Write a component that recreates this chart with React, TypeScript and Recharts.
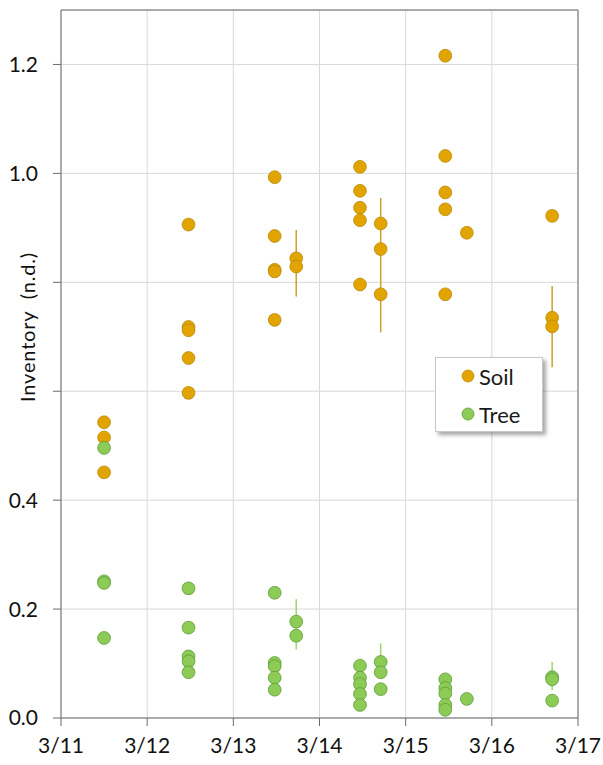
import { CartesianGrid, ErrorBar, Legend, ReferenceLine, Scatter, ScatterChart, XAxis, YAxis } from "recharts"

// x = days since 3/11, y = inventory, optional [minus, plus] error
type Pt = [number, number, [number, number]?]

const dayLabels = ["3/11", "3/12", "3/13", "3/14", "3/15", "3/16", "3/17"]
const dayTicks = [0, 1, 2, 3, 4, 5, 6]
const yTicks = [0, 0.2, 0.4, 0.6, 0.8, 1.0, 1.2]
const yTickLabels = ["0.0", "0.2", "0.4", "", "", "1.0", "1.2"]

const soilPoints: Pt[] = [
  [0.5, 0.543], [0.5, 0.515], [0.5, 0.451],
  [1.48, 0.906], [1.48, 0.718], [1.48, 0.712], [1.48, 0.661], [1.48, 0.597],
  [2.48, 0.993], [2.48, 0.885], [2.48, 0.823], [2.48, 0.82], [2.48, 0.731],
  [2.73, 0.844, [0.07, 0.052]], [2.73, 0.829],
  [3.47, 1.012], [3.47, 0.968], [3.47, 0.937], [3.47, 0.914], [3.47, 0.796],
  [3.71, 0.908], [3.71, 0.861, [0.153, 0.094]], [3.71, 0.778],
  [4.46, 1.216], [4.46, 1.032], [4.46, 0.965], [4.46, 0.934], [4.46, 0.778],
  [4.71, 0.891],
  [5.7, 0.922], [5.7, 0.735], [5.7, 0.719, [0.075, 0.074]],
]

const treePoints: Pt[] = [
  [0.5, 0.496], [0.5, 0.251], [0.5, 0.248], [0.5, 0.147],
  [1.48, 0.238], [1.48, 0.166], [1.48, 0.113], [1.48, 0.104], [1.48, 0.084],
  [2.48, 0.23], [2.48, 0.101], [2.48, 0.095], [2.48, 0.074], [2.48, 0.052],
  [2.73, 0.177, [0.051, 0.041]], [2.73, 0.151],
  [3.47, 0.096], [3.47, 0.074], [3.47, 0.062], [3.47, 0.044], [3.47, 0.024],
  [3.71, 0.103, [0.02, 0.034]], [3.71, 0.084], [3.71, 0.053],
  [4.46, 0.071], [4.46, 0.055], [4.46, 0.045], [4.46, 0.024], [4.46, 0.015],
  [4.71, 0.035],
  [5.7, 0.075], [5.7, 0.071, [0.02, 0.032]], [5.7, 0.032],
]

const SOIL = { fill: "#E1A400", stroke: "#B98A0A", err: "#C9A227" }
const TREE = { fill: "#8CCB55", stroke: "#5F9A3A", err: "#9FD56C" }
const FONT = "Lato, 'Open Sans', sans-serif"

const toRows = (pts: Pt[]) => pts.map(([x, y, e]) => ({ x, y, err: e }))

const dot = (c: { fill: string; stroke: string }) => (p: any) => (
  <circle cx={p.cx} cy={p.cy} r={6.4} fill={c.fill} stroke={c.stroke} strokeWidth={0.8} />
)

function LegendBox() {
  const items = [
    { name: "Soil", c: SOIL },
    { name: "Tree", c: TREE },
  ]
  return (
    <div
      style={{
        width: 108,
        height: 75,
        background: "#fff",
        border: "1px solid #c8c8c8",
        boxShadow: "3px 3px 4px rgba(0,0,0,0.35)",
        fontFamily: FONT,
        fontSize: 22,
        color: "#1a1a1a",
        boxSizing: "border-box",
        paddingTop: 3,
      }}
    >
      {items.map((it) => (
        <div key={it.name} style={{ display: "flex", alignItems: "center", height: 30, paddingLeft: 25, marginBottom: 8 }}>
          <svg width={14} height={14} style={{ marginRight: 4 }}>
            <circle cx={7} cy={7} r={6} fill={it.c.fill} stroke={it.c.stroke} strokeWidth={0.8} />
          </svg>
          {it.name}
        </div>
      ))}
    </div>
  )
}

export default function App() {
  return (
    <div style={{ position: "absolute", left: 0, top: 0, background: "#fff" }}>
      <ScatterChart width={603} height={765} margin={{ top: 10, right: 25, bottom: 7, left: 0 }}>
        <CartesianGrid stroke="#d9d9d9" />
        <XAxis
          type="number"
          dataKey="x"
          domain={[0, 6]}
          ticks={dayTicks}
          tickFormatter={(v) => dayLabels[dayTicks.indexOf(v)] ?? ""}
          height={40}
          tickSize={8}
          tickMargin={12}
          stroke="#6b6b6b"
          tick={{ fill: "#111", fontSize: 21, fontFamily: FONT }}
        />
        <YAxis
          type="number"
          dataKey="y"
          domain={[0, 1.3]}
          ticks={yTicks}
          tickFormatter={(v) => yTickLabels[yTicks.indexOf(v)] ?? ""}
          width={61}
          tickSize={8}
          tickMargin={15}
          stroke="#6b6b6b"
          tick={{ fill: "#111", fontSize: 21, fontFamily: FONT }}
          label={(props: any) => {
            const vb = props.viewBox
            const cx = 27
            const cy = vb.y + vb.height / 2 - 37
            return (
              <text
                x={cx}
                y={cy}
                transform={`rotate(-90 ${cx} ${cy})`}
                textAnchor="middle"
                dominantBaseline="central"
                fontSize={20}
                letterSpacing={0.8}
                fontFamily={FONT}
                fill="#111"
              >
                {"Inventory\u00A0\u00A0(n.d.)"}
              </text>
            )
          }}
        />
        <ReferenceLine y={1.3} stroke="#6b6b6b" />
        <ReferenceLine x={6} stroke="#6b6b6b" />
        <Scatter name="Soil" data={toRows(soilPoints)} shape={dot(SOIL)} isAnimationActive={false}>
          <ErrorBar dataKey="err" direction="y" width={0} stroke={SOIL.err} strokeWidth={1.5} />
        </Scatter>
        <Scatter name="Tree" data={toRows(treePoints)} shape={dot(TREE)} isAnimationActive={false}>
          <ErrorBar dataKey="err" direction="y" width={0} stroke={TREE.err} strokeWidth={1.5} />
        </Scatter>
        <Legend
          layout="vertical"
          align="center"
          verticalAlign="middle"
          wrapperStyle={{ left: 435, top: 357, width: 108, height: 75 }}
          content={() => <LegendBox />}
        />
      </ScatterChart>
    </div>
  )
}
